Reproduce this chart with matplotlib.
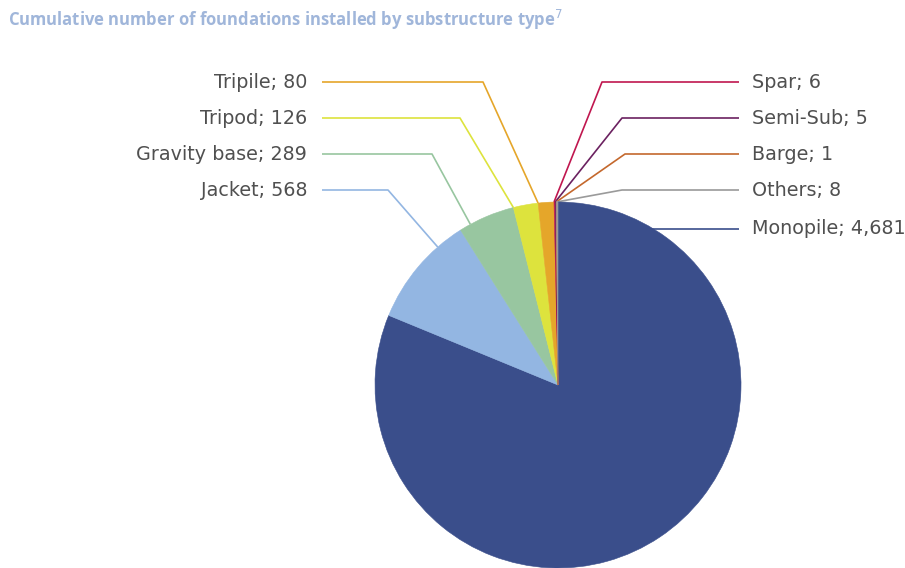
"""Pie of cumulative offshore wind foundations by substructure type."""

import matplotlib

matplotlib.use("Agg")
import matplotlib.pyplot as plt
import numpy as np

plt.rcParams["font.family"] = ["DejaVu Sans"]

TITLE = "Cumulative number of foundations installed by substructure type$^{7}$"
TYPES = ["Monopile", "Jacket", "Gravity base", "Tripod", "Tripile",
         "Spar", "Semi-Sub", "Barge", "Others"]
COUNTS = [4681, 568, 289, 126, 80, 6, 5, 1, 8]
COLORS = ["#3a4e8b", "#93b6e2", "#98c6a0", "#dde33d", "#e5a62a",
          "#c0174f", "#6b2160", "#c4682d", "#9a9a9a"]

W, H = 905, 568
CX, CY, R = 558, 385, 183

# label layout in pixels: (side, label y, elbow x)
LAYOUT = {
    "Tripile": ("left", 82, 483),
    "Tripod": ("left", 118, 460),
    "Gravity base": ("left", 154, 432),
    "Jacket": ("left", 190, 388),
    "Spar": ("right", 82, 602),
    "Semi-Sub": ("right", 118, 622),
    "Barge": ("right", 154, 625),
    "Others": ("right", 190, 622),
    "Monopile": ("right", 229, None),
}


def fy(py):
    return H - py


fig = plt.figure(figsize=(W / 100, H / 100), dpi=100)
ax = fig.add_axes([0, 0, 1, 1])

wedges, _ = ax.pie(COUNTS, colors=COLORS, startangle=90, counterclock=False,
                   center=(CX, fy(CY)), radius=R)
for w, c in zip(wedges, COLORS):
    w.set_edgecolor(c)
    w.set_linewidth(0.4)
    w.set_zorder(2)

ax.set_xlim(0, W)
ax.set_ylim(0, H)
ax.set_aspect("equal")
ax.axis("off")

for name, count, color, w in zip(TYPES, COUNTS, COLORS, wedges):
    side, ly, ex = LAYOUT[name]
    label = f"{name}; {count:,}"
    if side == "left":
        x0, tx, ha = 322, 307, "right"
    else:
        x0, tx, ha = 739, 752, "left"
    if ex is None:
        xs, ys = [x0, CX], [fy(ly), fy(ly)]
    else:
        # point on the wedge arc closest to the elbow
        ang = np.degrees(np.arctan2(fy(ly) - fy(CY), ex - CX))
        lo, hi = sorted((w.theta1, w.theta2))
        ang = (ang - lo) % 360 + lo
        ang = min(max(ang, lo), hi)
        px = CX + R * np.cos(np.radians(ang))
        py = fy(CY) + R * np.sin(np.radians(ang))
        xs, ys = [x0, ex, px], [fy(ly), fy(ly), py]
    ax.plot(xs, ys, color=color, lw=1.2, zorder=1, solid_capstyle="butt")
    ax.text(tx, fy(ly), label, ha=ha, va="center", fontsize=13.8, color="#505050")

fig.text(8 / W, 1 - 20 / H, TITLE, ha="left", va="center", fontsize=12,
         fontweight="bold", color="#a0b6da", family=["Open Sans", "DejaVu Sans"])

fig.savefig("out.png", dpi=100)
